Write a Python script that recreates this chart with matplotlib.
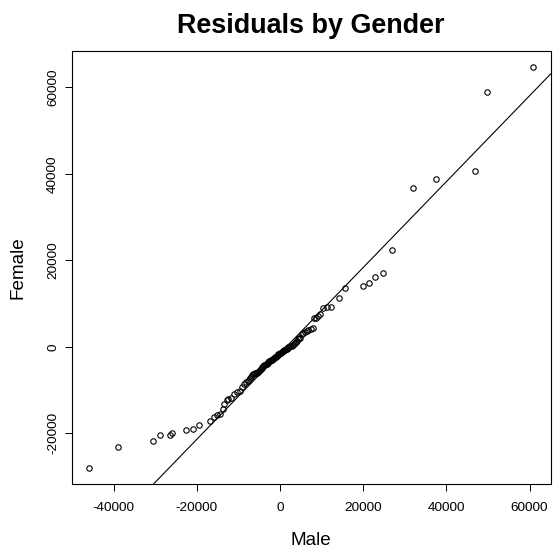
import numpy as np
import matplotlib
matplotlib.use("Agg")
import matplotlib.pyplot as plt

# sorted residuals, paired by rank (quantile-quantile)
male = [
    -45860, -38900, -30570, -28810, -26570, -26090, -22730, -20970, -19520,
    -16810, -15850, -15200, -14570, -13760, -13610, -12800, -12410, -11840,
    -11040, -10250, -9600, -9120, -8640, -8160,
    -7800, -7500, -7200, -6950, -6700, -6450, -6250, -6000, -5750, -5500,
    -5250, -5050, -4850, -4650, -4450, -4250, -4000, -3800, -3600, -3400,
    -3200, -3000, -2800, -2600, -2400, -2200, -2000, -1800, -1600, -1400,
    -1200, -1000, -800, -600, -400, -200, 0, 200, 400, 600, 800, 1000,
    1200, 1400, 1600, 1800, 2000, 2250, 2500, 2750, 3000, 3250, 3500,
    3750, 4000, 4300, 4600, 4800, 5200, 5600, 6000, 6400, 6800,
    7370, 8000, 8160, 8640, 9200, 9600, 10400, 11210, 12170, 14100,
    15690, 19850, 21290, 22730, 24800, 26890, 32010, 37540, 46820,
    49860, 60820,
]
female = [
    -28010, -23250, -21710, -20480, -20320, -19860, -19330, -19100, -18090,
    -17090, -16320, -15700, -15550, -14320, -13330, -12320, -12010, -11900,
    -11020, -10460, -10160, -9240, -8480, -8240,
    -7950, -7700, -7300, -6900, -6600, -6350, -6200, -6100, -6020, -5970,
    -5900, -5600, -5300, -5050, -4800, -4600, -4450, -4300, -4200, -4080,
    -3950, -3700, -3480, -3300, -3200, -3080, -2980, -2900, -2820, -2650,
    -2450, -2250, -2050, -1850, -1700, -1560, -1450, -1320, -1200, -1050,
    -900, -780, -660, -530, -400, -270, -150, 0, 150, 300, 480, 680, 900,
    1150, 1400, 1700, 2000, 2150, 2930, 3150, 3400, 3650, 3900,
    4090, 4460, 6630, 6770, 7160, 7690, 9080, 9240, 9310, 11390,
    13630, 14020, 14850, 16170, 17020, 22330, 36790, 38800, 40580,
    58960, 64730,
]

# reference line
line_slope = 0.993
line_icpt = -1500

plt.rcParams['font.family'] = ['Liberation Sans', 'DejaVu Sans']
plt.rcParams['axes.unicode_minus'] = False

fig = plt.figure(figsize=(5.54, 5.54), dpi=100)
ax = fig.add_axes([0.1294, 0.1264, 0.8646, 0.7816])

ax.plot(male, female, 'o', mfc='none', mec='black', ms=3.9, mew=0.8)
ax.axline((0, line_icpt), slope=line_slope, color='black', lw=0.8)

# R style 4% padding around the data
def padded(v):
    lo, hi = min(v), max(v)
    r = hi - lo
    return lo - 0.04 * r, hi + 0.04 * r

ax.set_xlim(*padded(male))
ax.set_ylim(*padded(female))
ax.set_xticks([-40000, -20000, 0, 20000, 40000, 60000])
ax.set_yticks([-20000, 0, 20000, 40000, 60000])

for s in ax.spines.values():
    s.set_linewidth(0.8)
ax.tick_params(axis='both', direction='out', length=5, width=0.7,
               labelsize=9.7, color='black')
ax.tick_params(axis='x', pad=8)
ax.tick_params(axis='y', pad=4)
for lab in ax.get_yticklabels():
    lab.set_rotation(90)
    lab.set_va('center')

ax.set_title('Residuals by Gender', fontsize=19.4, fontweight='bold', pad=13)
ax.set_xlabel('Male', fontsize=13.6)
ax.set_ylabel('Female', fontsize=13.6, va='center')
ax.xaxis.set_label_coords(0.5, -0.112)
ax.yaxis.set_label_coords(-0.112, 0.5)

fig.savefig('out.png', dpi=100)
